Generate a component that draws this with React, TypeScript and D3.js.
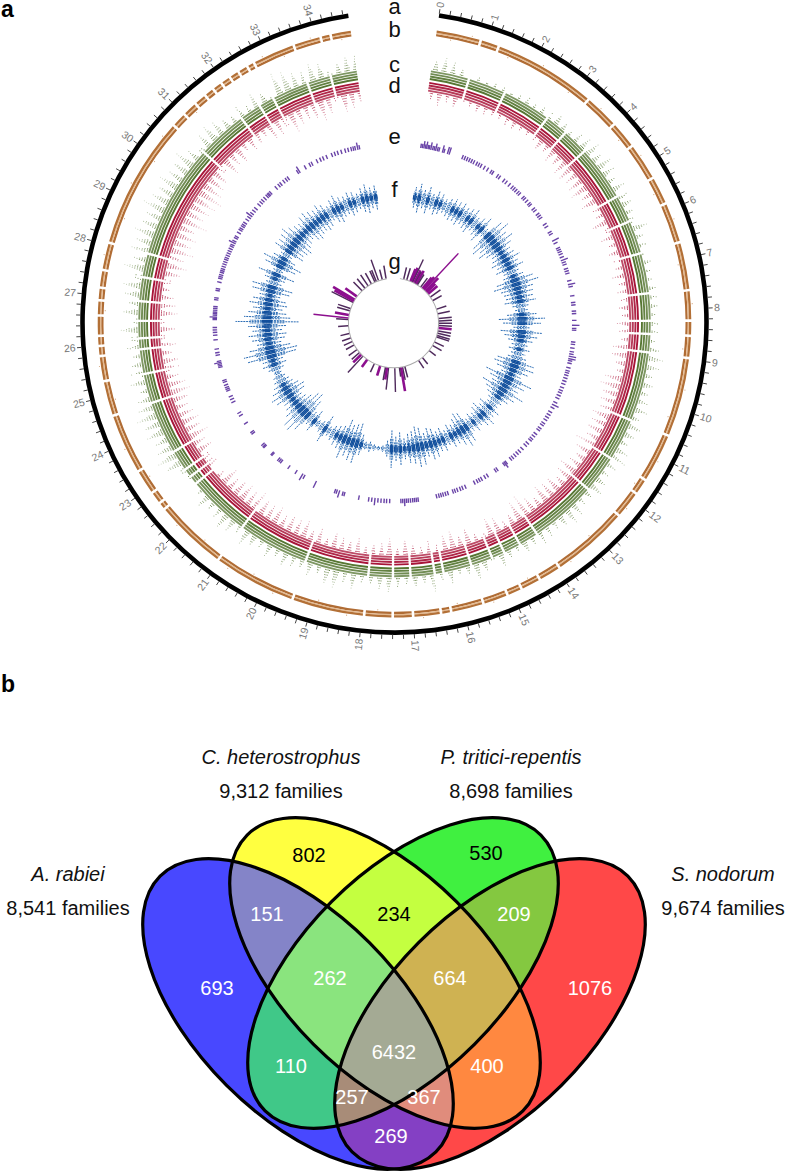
import React from "react";
import * as d3 from "d3";

const W = 787, H = 1173;
const genomeEnd = 34.7;
const labels = d3.range(0, 35);
const binStep = 0.2;

const contigGaps = [0.88, 1.75, 2.87, 3.4, 4.0, 5.27, 5.9, 6.67, 7.6, 8.23, 8.53, 8.95, 10.55, 11.53, 12.4, 13.95, 14.4, 14.8, 15.1, 15.6, 16.25, 16.45, 17.0, 17.4, 17.96, 19.42, 21.05, 22.5, 22.7, 22.9, 23.38, 24.6, 25.28, 25.85, 26.1, 26.5, 26.95, 27.5, 28.05, 30.7, 31.85, 32.35, 32.7, 33.55, 34.1];
const brownGaps = [0.88, 1.25, 3.3, 4.0, 4.55, 5.3, 5.86, 6.67, 7.63, 8.23, 8.53, 8.97, 10.55, 11.53, 11.85, 12.4, 13.95, 14.4, 14.8, 15.1, 15.6, 16.25, 16.45, 17.0, 17.4, 17.96, 19.4, 21.05, 22.5, 22.65, 22.9, 23.4, 24.6, 25.3, 25.8, 26.0, 26.2, 26.6, 26.9, 27.15, 27.5, 28.05, 30.7, 31.0, 31.3, 31.55, 31.75, 31.95, 32.15, 32.35, 32.55, 32.7, 33.55, 34.1, 34.3];
const brownSpecks = [0.3, 0.7, 1.5, 2.2, 2.9, 3.6, 4.3, 4.8, 5.6, 6.2, 7.1, 7.9, 8.8, 9.6, 10.2, 11.1, 11.7, 12.2, 13.1, 13.7, 14.6, 15.4, 16.1, 16.8, 17.7, 18.3, 18.9, 19.8, 20.3, 20.8, 21.5, 22.1, 23.2, 23.9, 24.9, 25.6, 26.7, 27.8, 28.6, 29.3, 29.9, 30.4, 31.2, 32.9, 33.3, 33.9, 34.5];

const cHeights = [20,24,22,17,15,14,13,15,14,13,14,16,15,18,16,20,17,15,19,22,24,20,26,22,18,21,25,20,17,22,24,18,16,15,17,14,15,18,16,17,15,16,18,14,20,24,22,18,20,17,19,22,18,23,20,17,21,24,19,16,20,23,18,16,21,24,20,16,19,22,17,20,14,17,23,16,20,26,18,15,22,18,28,17,20,16,19,24,21,17,16,24,19,28,26,18,21,17,19,23,18,22,16,20,24,18,21,26,19,17,23,14,12,16,20,26,30,24,22,28,26,30,24,22,18,24,26,20,17,22,24,28,22,26,20,25,28,24,30,22,27,25,30,26,24,32,28,26,30,24,26,30,22,20,24,28,24,20,18,22,16,24,20,18,32,30,24,22,28,25,22,20,26,24];
const dHeights = [18,22,16,20,18,15,18,16,14,15,16,18,15,14,17,20,18,22,20,24,26,22,24,28,20,25,22,18,26,20,22,18,20,16,18,21,17,19,16,20,18,22,20,17,24,26,20,18,28,30,26,24,22,28,24,26,22,30,24,20,22,28,24,20,26,24,28,20,24,32,30,20,16,24,28,22,18,26,20,28,24,18,22,16,20,26,18,28,22,20,18,24,20,22,26,18,24,20,28,24,26,22,28,24,26,30,24,28,26,22,28,16,14,30,24,26,22,30,26,28,24,22,26,30,28,22,30,26,20,24,20,26,22,28,24,22,18,24,26,30,24,32,28,30,26,34,28,30,32,36,30,28,26,24,28,22,26,18,22,20,18,26,24,28,30,24,22,26,30,24,22,28,24,20];
const fHalf = [10,14,9,13,8,12,10,7,9,11,10,12,9,11,13,8,10,14,5,18,22,16,20,14,10,12,15,11,14,8,10,18,22,16,14,13,15,8,6,14,22,18,8,20,16,12,8,10,7,9,18,20,16,10,24,18,14,22,16,12,8,6,12,9,14,12,8,10,7,16,18,14,10,12,8,12,10,14,16,12,18,20,16,14,10,16,12,18,8,3,2,3,5,4,10,20,18,16,20,12,10,8,5,14,6,4,12,8,18,24,22,16,12,10,16,18,14,10,8,6,4,8,12,10,24,26,20,12,16,18,14,18,30,22,18,14,18,16,10,18,20,8,10,18,5,16,20,12,6,16,14,16,18,14,12,10,14,16,13,12,14,12,8,12,14,10,9,12,10,8,12,14,10,12];

const ePos = [0.03,0.08,0.13,0.18,0.22,0.27,0.31,0.36,0.42,0.47,0.52,0.58,0.63,0.75,0.8,0.92,0.98,1.42,1.5,1.58,1.66,1.74,1.82,1.92,2.0,2.08,2.2,2.32,2.45,2.52,2.7,2.78,2.95,3.05,3.18,3.3,3.38,3.46,3.55,3.62,3.78,3.85,3.95,4.06,4.12,4.28,4.36,4.5,4.58,4.66,4.9,5.0,5.2,5.28,5.5,5.6,5.78,5.85,5.92,6.0,6.1,6.2,6.28,6.36,6.5,6.58,6.66,6.9,7.02,7.1,7.4,7.62,7.7,7.9,7.98,8.2,8.36,8.46,8.52,8.9,8.98,9.1,9.22,9.3,9.38,9.46,9.52,9.6,9.75,9.85,9.92,10.0,10.1,10.2,10.3,10.42,10.52,10.6,10.7,10.8,10.95,11.05,11.15,11.3,11.4,11.5,11.6,11.72,11.8,11.92,12.0,12.15,12.25,12.35,12.42,12.55,12.65,12.8,12.92,13.02,13.12,13.22,13.3,13.48,13.53,13.58,13.85,13.92,14.22,14.32,14.44,14.52,14.6,14.7,15.02,15.12,15.2,15.3,15.38,15.45,15.62,15.7,15.78,15.85,15.92,16.0,16.6,16.66,16.72,16.78,16.85,16.92,16.98,17.04,17.1,17.16,17.52,17.62,17.7,17.8,17.9,18.0,18.1,18.2,18.52,19.0,19.06,19.18,19.26,19.32,20.0,20.42,20.5,20.72,21.0,21.3,21.36,21.42,21.66,21.7,22.02,22.06,22.12,22.6,22.66,23.0,23.3,23.4,23.8,23.9,24.0,24.2,24.26,24.32,24.4,24.5,24.56,25.0,25.05,25.1,25.15,25.2,25.4,25.48,25.6,25.9,26.05,26.14,26.22,26.3,26.56,26.6,26.64,26.7,26.75,26.8,26.86,26.92,26.98,27.2,27.26,27.5,27.56,27.78,27.9,27.96,28.02,28.1,28.16,28.22,28.3,28.38,28.46,28.54,28.6,28.68,28.76,28.84,28.92,29.0,29.06,29.14,29.2,29.3,29.36,29.5,29.6,29.66,29.74,29.8,29.88,30.0,30.1,30.18,30.26,30.36,30.46,30.62,30.72,30.8,30.9,31.0,31.06,31.1,31.16,31.4,31.52,31.6,31.72,31.82,31.9,32.26,32.32,32.55,32.72,32.8,32.98,33.1,33.2,33.32,33.5,33.6,33.7,33.82,33.95,34.05,34.15,34.22,34.28,34.36,34.42];
const eTall = [0.13,0.22,0.36,0.52,0.75,0.92,0.98,5.5,6.2,7.02,8.36,9.38,9.46,11.05,13.53,17.04,18.0,19.18,20.0,20.5,25.15,26.64,29.14,30.18,32.32,34.36];

const gPos = [0.49,0.89,1.4,1.55,1.7,1.9,2.05,2.2,2.4,2.9,3.2,3.35,3.5,3.7,3.9,4.2,4.7,5.25,6.46,7.07,7.7,8,8.3,8.6,8.9,9.3,9.6,9.9,10.1,10.8,11.3,12.1,13.35,13.96,15.9,16.2,16.4,16.6,17.2,18,18.2,18.4,19.1,19.9,20.95,21.66,21.96,22.3,22.8,23.5,24,24.5,25.1,26.1,26.9,27.1,27.5,28.05,28.35,29.2,29.4,29.6,30.1,31.1,31.6,32.1,32.6,33.1,33.3,33.6,34.1,34.6];
const gLen = [12,12,13,15,25,14,13,15,12,11,14,16,50,18,12,12,12,10,10,12,13,13,13,13,13,13,13,13,13,10,10,8,8,9,11,13,24,9,24,22,12,13,10,9,9,22,11,10,10,9,9,9,9,10,12,35,14,13,13,24,22,25,14,12,12,13,12,12,12,22,10,13];
const gMagenta = [0,0,1,1,0,1,0,1,0,0,1,1,1,1,1,1,0,0,0,0,0,0,0,0,1,0,0,0,0,0,0,0,0,0,0,0,1,0,0,0,1,0,1,0,1,0,1,0,0,0,0,0,0,0,0,1,1,0,0,0,1,1,1,0,0,0,0,0,0,0,0,0];

const vennNames = ["A. rabiei", "C. heterostrophus", "P. tritici-repentis", "S. nodorum"];
const vennTotals = ["8,541 families", "9,312 families", "8,698 families", "9,674 families"];
// region membership uses indices into vennNames: 0 A, 1 C, 2 P, 3 S
const regionSets = [[0],[1],[2],[3],[0,1],[1,2],[2,3],[0,2],[1,3],[0,3],[0,1,2],[1,2,3],[0,2,3],[0,1,3],[0,1,2,3]];
const regionCounts = [693,802,530,1076,151,234,209,110,400,269,262,664,257,367,6432];
const regionColors = ["#4848ff","#ffff40","#40f040","#ff4848","#8484c8","#c4ff40","#84c840","#40c888","#ff8840","#8440c4","#8ae47e","#cfb252","#a88c78","#e08c7c","#a4aa94"];
const regionTextDark = [0,1,1,0,0,1,0,0,0,0,0,0,0,0,0];
const regionAnchors: [number, number][] = [[217,988],[309,855],[486,853],[590,988],[267,914],[394,914],[514,914],[291,1066],[487,1066],[391,1136],[330,978],[450,978],[352,1097],[424,1097],[394,1052]];
const vennEllipses = [
  { cx: 298, cy: 1014, rot: 45 },
  { cx: 385, cy: 973, rot: 45 },
  { cx: 403, cy: 973, rot: -45 },
  { cx: 490, cy: 1014, rot: -45 },
];
const vennA = 195, vennB = 101;

const cx = 394.5, cy = 322.5;
const angle = d3.scaleLinear().domain([0, genomeEnd]).range([(8.2 * Math.PI) / 180, (351.5 * Math.PI) / 180]);
const arc = d3.arc();
const seg = (r0: number, r1: number, a: number, b: number) =>
  arc({ innerRadius: r0, outerRadius: r1, startAngle: angle(a), endAngle: angle(b) }) as string;

function segments(gaps: number[], halfGap: number): [number, number][] {
  const edges = [0, ...gaps, genomeEnd];
  return d3.pairs(edges).map(([a, b], i) => [i === 0 ? a : a + halfGap, i === edges.length - 2 ? b : b - halfGap] as [number, number]);
}
const inGap = (v: number, gaps: number[], half: number) => gaps.some((g) => Math.abs(g - v) < half);

const ROW = 2.6;
const GAP_HALF = 0.028;
function scatterRows(heights: number[], base: number, dir: number) {
  const paths: { d: string; op: number }[] = [];
  for (let k = 4; k < 16; k++) {
    const p = d3.path();
    const r = base + dir * (k * ROW + 0.8);
    heights.forEach((h, i) => {
      const t = (k * ROW) / h;
      if (t >= 1) return;
      const vc = (i + 0.5) * binStep;
      const half = 0.11 * Math.pow(1 - t, 1.2);
      for (let v = vc - half; v <= vc + half + 1e-6; v += 0.03) {
        if (v < 0 || v > genomeEnd || inGap(v, contigGaps, GAP_HALF)) continue;
        const [x, y] = d3.pointRadial(angle(v), r);
        p.moveTo(x, y);
        p.lineTo(x + 0.01, y);
      }
    });
    paths.push({ d: p.toString(), op: Math.max(0.3, 1 - (k - 4) * 0.11) });
  }
  return paths;
}

const Circos = () => {
  const cSeg = segments(contigGaps, GAP_HALF);
  const bSeg = segments(brownGaps, 0.026);
  const cRows = scatterRows(cHeights, 246.5, 1);
  const dRows = scatterRows(dHeights, 244.5, -1);
  const ticks = d3.range(0, genomeEnd, 0.2);
  return (
    <g transform={`translate(${cx},${cy}) scale(1,0.994)`}>
      <path d={seg(309.7, 314.3, 0, genomeEnd)} fill="#000" />
      {ticks.map((t) => {
        const [x0, y0] = d3.pointRadial(angle(t), 314);
        const [x1, y1] = d3.pointRadial(angle(t), 318.5);
        return <line key={t} x1={x0} y1={y0} x2={x1} y2={y1} stroke="#444" strokeWidth={1} />;
      })}
      {labels.map((l) => {
        const deg = (angle(l) * 180) / Math.PI;
        const [x, y] = d3.pointRadial(angle(l), 320);
        const right = deg < 180;
        return (
          <text key={l} transform={`translate(${x},${y}) rotate(${right ? deg - 90 : deg + 90})`} textAnchor={right ? "start" : "end"}
            dominantBaseline="central" fontFamily="'Liberation Sans', sans-serif" fontSize={10.5} fill="#777">{l}</text>
        );
      })}
      {bSeg.map(([a, b], i) => (
        <g key={i}>
          <path d={seg(291, 293.3, a, b)} fill="#b06c34" />
          <path d={seg(293.3, 294.5, a, b)} fill="#e4b98e" />
          <path d={seg(294.5, 296.8, a, b)} fill="#b37036" />
        </g>
      ))}
      {brownSpecks.map((v, i) => {
        const [x, y] = d3.pointRadial(angle(v), i % 2 ? 298.3 : 289.5);
        return <circle key={v} cx={x} cy={y} r={0.6} fill="#d4a77f" />;
      })}
      {cSeg.map(([a, b], i) => (
        <g key={i} fill="#567632">
          {[0, 1, 2, 3].map((k) => (
            <path key={k} d={seg(246.5 + k * ROW, 246.5 + k * ROW + 1.9, a, b)} fillOpacity={1 - k * 0.08} />
          ))}
        </g>
      ))}
      {cRows.map((r, i) => (
        <path key={i} d={r.d} fill="none" stroke="#5f7f3c" strokeWidth={1.05} strokeLinecap="round" strokeOpacity={r.op} />
      ))}
      {cSeg.map(([a, b], i) => (
        <g key={i} fill="#a81438">
          {[0, 1, 2, 3].map((k) => (
            <path key={k} d={seg(244.5 - k * ROW - 1.9, 244.5 - k * ROW, a, b)} fillOpacity={1 - k * 0.08} />
          ))}
        </g>
      ))}
      {dRows.map((r, i) => (
        <path key={i} d={r.d} fill="none" stroke="#b42c4e" strokeWidth={1.05} strokeLinecap="round" strokeOpacity={r.op} />
      ))}
      {ePos.map((v) => {
        const tall = eTall.includes(v);
        const [x0, y0] = d3.pointRadial(angle(v), 177.5);
        const [x1, y1] = d3.pointRadial(angle(v), tall ? 185 : 182);
        return <line key={v} x1={x0} y1={y0} x2={x1} y2={y1} stroke="#4f2298" strokeWidth={1.4} strokeOpacity={0.85} />;
      })}
      {fHalf.map((L, i) => {
        const vc = (i + 0.5) * binStep;
        return [-0.055, 0, 0.055].map((dv, j) => {
          const len = (dv === 0 ? L : L * 0.55) * 1.05;
          const core = L >= 10 ? Math.min(len * 0.35, 5) : 0;
          const [x0, y0] = d3.pointRadial(angle(vc + dv), 127.5 - len);
          const [x1, y1] = d3.pointRadial(angle(vc + dv), 127.5 + len);
          const [x2, y2] = d3.pointRadial(angle(vc + dv), 127.5 - core);
          const [x3, y3] = d3.pointRadial(angle(vc + dv), 127.5 + core);
          return (
            <g key={`${i}-${j}`}>
              <line x1={x0} y1={y0} x2={x1} y2={y1} stroke="#2a6cb5" strokeWidth={1} strokeDasharray="2 0.8" />
              {core > 0 && <line x1={x2} y1={y2} x2={x3} y2={y3} stroke="#124f9c" strokeWidth={1.4} />}
            </g>
          );
        });
      })}
      <g transform="translate(-1,0.5)">
        <path d={seg(44.6, 45.6, 0, genomeEnd)} fill="#aaa" />
        {gPos.map((v, i) => {
          const [x0, y0] = d3.pointRadial(angle(v), 45.5);
          const [x1, y1] = d3.pointRadial(angle(v), 45.5 + gLen[i]);
          const thin = gLen[i] > 30 || (gLen[i] > 20 && !gMagenta[i]);
          return (
            <line key={v} x1={x0} y1={y0} x2={x1} y2={y1} stroke={gMagenta[i] ? "#8c0f8e" : "#4f2a5c"} strokeWidth={thin ? 1.4 : gMagenta[i] ? 2.6 : 1.5} />
          );
        })}
      </g>
    </g>
  );
};

const Venn = () => {
  const ids = ["va", "vb", "vc", "vd"];
  const ell = (e: (typeof vennEllipses)[number], props: any) => (
    <ellipse cx={e.cx} cy={e.cy} rx={vennA} ry={vennB} transform={`rotate(${e.rot} ${e.cx} ${e.cy})`} {...props} />
  );
  const order = d3.range(regionSets.length);
  const nest = (set: number[], fill: string) => {
    const [last, ...rest] = [...set].reverse();
    let node: any = ell(vennEllipses[last], { fill });
    rest.forEach((s) => { node = <g clipPath={`url(#${ids[s]})`}>{node}</g>; });
    return node;
  };
  return (
    <g>
      <defs>
        {vennEllipses.map((e, i) => <clipPath key={i} id={ids[i]}>{ell(e, {})}</clipPath>)}
      </defs>
      {order.map((i) => <g key={i}>{nest(regionSets[i], regionColors[i])}</g>)}
      {vennEllipses.map((e, i) => <g key={i}>{ell(e, { fill: "none", stroke: "#000", strokeWidth: 3.2 })}</g>)}
      {regionCounts.map((c, i) => (
        <text key={c} x={regionAnchors[i][0]} y={regionAnchors[i][1]} textAnchor="middle" dominantBaseline="central"
          fontFamily="'Liberation Sans', sans-serif" fontSize={20} fill={regionTextDark[i] ? "#000" : "#fff"}>{c}</text>
      ))}
    </g>
  );
};

const trackLetters = ["a", "b", "c", "d", "e", "f", "g"];
const trackLetterBase = [14, 37, 72, 93, 144, 197, 269];
const nameAnchors: [number, number][] = [[68, 874], [281, 757], [511, 757], [723, 874]];

export default function App() {
  const font = "'Liberation Sans', sans-serif";
  return (
    <svg width={W} height={H} viewBox={`0 0 ${W} ${H}`} style={{ position: "absolute", left: 0, top: 0, background: "#fff" }}>
      <text x={1} y={17} fontFamily={font} fontWeight="bold" fontSize={23}>a</text>
      <text x={1} y={692} fontFamily={font} fontWeight="bold" fontSize={23}>b</text>
      <Circos />
      {trackLetters.map((l, i) => (
        <text key={l} x={394.5} y={trackLetterBase[i]} textAnchor="middle" fontFamily={font} fontSize={22} fill="#111">{l}</text>
      ))}
      <Venn />
      {vennNames.map((n, i) => (
        <g key={n} fontFamily={font} fontSize={20} textAnchor="middle" fill="#111">
          <text x={nameAnchors[i][0]} y={nameAnchors[i][1]} dominantBaseline="central" fontStyle="italic">{n}</text>
          <text x={nameAnchors[i][0]} y={nameAnchors[i][1] + 34} dominantBaseline="central">{vennTotals[i]}</text>
        </g>
      ))}
    </svg>
  );
}
